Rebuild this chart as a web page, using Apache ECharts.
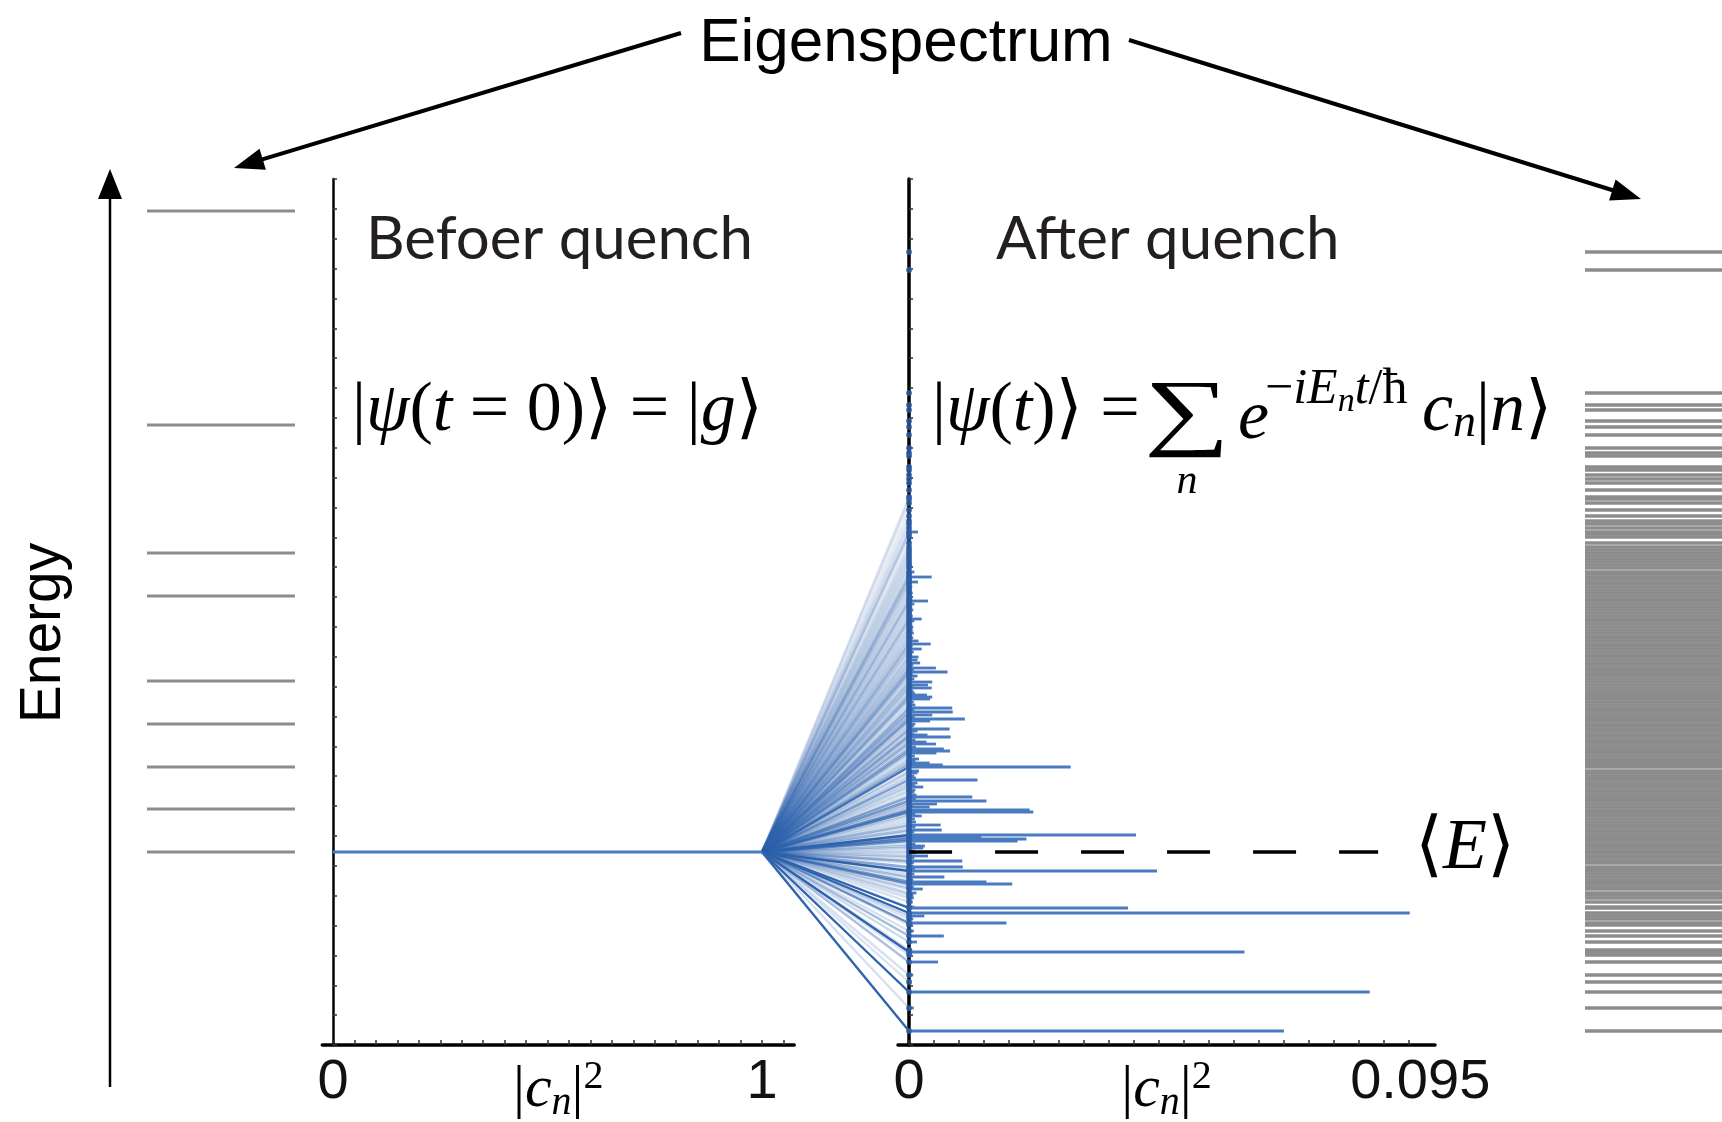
<!DOCTYPE html>
<html>
<head>
<meta charset="utf-8">
<script src="https://cdn.jsdelivr.net/npm/echarts@6/dist/echarts.min.js"></script>
<style>
  html, body { margin: 0; padding: 0; background: #fff; }
  #chart { width: 1722px; height: 1122px; }
</style>
</head>
<body>
<div id="chart"></div>
<script>
// energies in arbitrary units, 0 = bottom of the energy axis
const energyMax = 866;
const energyTick = 29.862;

// spectrum of the initial hamiltonian (left ladder)
const levelsBefore = [834, 620, 492, 449, 364, 321, 278, 236, 193];
const groundEnergy = 193;
const meanEnergy = 193;

// spectrum after the quench and the overlaps |c_n|^2
const levelsAfter = [
  793, 775, 652, 640, 635, 624, 618, 610, 597, 592,
  589, 578, 575, 570, 566, 562, 555, 548, 546, 542,
  535, 529, 524, 521, 517, 513, 511, 508, 502, 498,
  495, 492, 489, 486, 483, 480, 477, 473, 471, 468,
  466, 463, 461, 458, 455, 452, 449, 446, 444, 441,
  438, 435, 432, 429, 426, 424, 421, 418, 415, 412,
  409, 407, 404, 401, 399, 396, 393, 390, 388, 385,
  382, 380, 377, 375, 373, 371, 369, 366, 363, 360,
  357, 354, 352, 350, 348, 346, 343, 340, 337, 335,
  333, 330, 328, 326, 324, 321, 319, 316, 314, 311,
  310, 308, 305, 303, 301, 298, 296, 294, 292, 289,
  286, 284, 282, 280, 278, 274, 272, 269, 267, 265,
  262, 260, 258, 255, 253, 250, 248, 246, 244, 241,
  238, 235, 233, 231, 229, 226, 223, 220, 218, 215,
  213, 210, 208, 206, 204, 201, 199, 197, 194, 192,
  189, 187, 184, 182, 178, 176, 174, 171, 168, 165,
  163, 161, 158, 156, 152, 150, 147, 143, 138, 137,
  132, 129, 126, 122, 120, 114, 109, 103, 95, 93,
  90, 83, 70, 63, 53, 37, 14
];
const weightsAfter = [
  0, 0, 0, 0, 0, 0, 0, 0, 0, 0,
  0, 0, 0, 0, 0, 0, 0, 0.0001, 0.0001, 0.0001,
  0.0001, 0.0002, 0.0001, 0.0002, 0.0002, 0.0017, 0.0002, 0.0003, 0.0002, 0.0003,
  0.0002, 0.0004, 0.0003, 0.0004, 0.0003, 0.0005, 0.0004, 0.0010, 0.0004, 0.0043,
  0.0005, 0.0017, 0.0004, 0.0006, 0.0005, 0.0007, 0.0005, 0.0006, 0.0036, 0.0010,
  0.0006, 0.0008, 0.0005, 0.0007, 0.0024, 0.0010, 0.0006, 0.0008, 0.0007, 0.0009,
  0.0006, 0.0008, 0.0018, 0.0041, 0.0007, 0.0024, 0.0009, 0.0006, 0.0018, 0.0016,
  0.0021, 0.0008, 0.0051, 0.0009, 0.0073, 0.0007, 0.0016, 0.0010, 0.0044, 0.0036,
  0.0043, 0.0008, 0.0011, 0.0034, 0.0044, 0.0040, 0.0009, 0.0012, 0.0082, 0.0010,
  0.0083, 0.0044, 0.0011, 0.0106, 0.0040, 0.0012, 0.0009, 0.0077, 0.0016, 0.0010,
  0.0035, 0.0079, 0.0012, 0.0033, 0.0051, 0.0013, 0.0066, 0.0078, 0.0052, 0.0011,
  0.0019, 0.0012, 0.0039, 0.0064, 0.0307, 0.0019, 0.0016, 0.0010, 0.0013, 0.0130,
  0.0016, 0.0011, 0.0027, 0.0012, 0.0010, 0.0014, 0.0120, 0.0013, 0.0147, 0.0053,
  0.0039, 0.0229, 0.0236, 0.0012, 0.0024, 0.0011, 0.0013, 0.0060, 0.0012, 0.0062,
  0.0010, 0.0431, 0.0137, 0.0223, 0.0206, 0.0012, 0.0030, 0.0027, 0.0011, 0.0013,
  0.0036, 0.0010, 0.0101, 0.0009, 0.0102, 0.0011, 0.0471, 0.0010, 0.0067, 0.0008,
  0.0147, 0.0196, 0.0009, 0.0026, 0.0014, 0.0008, 0.0009, 0.0007, 0.0010, 0.0416,
  0.0951, 0.0029, 0.0008, 0.0185, 0.0007, 0.0009, 0.0066, 0.0015, 0.0006, 0.0637,
  0.0006, 0.0055, 0.0008, 0.0005, 0.0875, 0.0009, 0.0712
];

// tick marks / labels on the two |c_n|^2 axes
const leftTicks = Array.from({ length: 22 }, (_, i) => +(i * 0.05).toFixed(2));
const leftLabels = [0, 1];
const rightTicks = Array.from({ length: 21 }, (_, i) => +(i * 0.00475).toFixed(5));
const rightLabels = [0, 0.095];

const serif = "'Liberation Serif', 'DejaVu Serif', serif";
const sans = "'Liberation Sans', Arial, sans-serif";
const myriad = "Lato, 'Open Sans', sans-serif";
const blue = '#4a7abf';

const chart = echarts.init(document.getElementById('chart'));

function arrow(x1, y1, x2, y2, w, head, half) {
  const len = Math.hypot(x2 - x1, y2 - y1);
  const ux = (x2 - x1) / len, uy = (y2 - y1) / len;
  const bx = x2 - ux * head, by = y2 - uy * head;
  return [
    { type: 'line', shape: { x1: x1, y1: y1, x2: bx + ux * 3, y2: by + uy * 3 }, style: { stroke: '#000', lineWidth: w } },
    { type: 'polygon', shape: { points: [[x2, y2], [bx - uy * half, by + ux * half], [bx + uy * half, by - ux * half]] }, style: { fill: '#000' } }
  ];
}

function energyAxis(gridIndex, visible, width) {
  return {
    type: 'value', gridIndex: gridIndex, min: 0, max: energyMax, interval: energyTick,
    show: visible,
    axisLine: { show: visible, onZero: true, lineStyle: { color: '#000', width: width } },
    axisTick: { show: visible, inside: true, length: 4, lineStyle: { color: '#333', width: 1.5 } },
    axisLabel: { show: false },
    splitLine: { show: false }
  };
}

const cnName = '{b||}{c|c}{s|n}{b||}{p|2}';
const cnRich = {
  b: { fontFamily: serif, fontSize: 60, lineHeight: 66, color: '#000' },
  c: { fontFamily: serif, fontSize: 60, fontStyle: 'italic', lineHeight: 66, color: '#000' },
  s: { fontFamily: serif, fontSize: 40, fontStyle: 'italic', lineHeight: 40, verticalAlign: 'bottom', color: '#000' },
  p: { fontFamily: serif, fontSize: 40, lineHeight: 40, verticalAlign: 'top', color: '#000' }
};

function cnAxis(gridIndex, min, max, ticks, labels) {
  return {
    type: 'value', gridIndex: gridIndex, min: min, max: max,
    axisLine: { onZero: true, lineStyle: { color: '#000', width: 3.5 } },
    axisTick: { show: true, inside: true, length: 5, customValues: ticks, lineStyle: { color: '#333', width: 1.5 } },
    axisLabel: {
      customValues: labels, margin: 10, fontSize: 56, fontFamily: sans, color: '#111',
      formatter: v => (v === 0.095 ? '{r|0.095}' : String(v)),
      rich: { r: { fontSize: 56, fontFamily: sans, color: '#111', padding: [0, 0, 0, 22] } }
    },
    splitLine: { show: false },
    name: cnName, nameLocation: 'middle', nameGap: 12, nameMoveOverlap: false,
    nameTextStyle: { rich: cnRich, verticalAlign: 'top' }
  };
}

function hiddenAxis(gridIndex) {
  return { type: 'value', gridIndex: gridIndex, min: 0, max: 1, show: false };
}

function levelLine(color, width) {
  return function (params, api) {
    const a = api.coord([0, api.value(1)]);
    const b = api.coord([1, api.value(1)]);
    return { type: 'line', shape: { x1: a[0], y1: a[1], x2: b[0], y2: b[1] }, style: { stroke: color, lineWidth: width } };
  };
}

const ff = { t: { fontFamily: serif, fontSize: 70, color: '#000' }, i: { fontFamily: serif, fontSize: 70, fontStyle: 'italic', color: '#000' } };

const option = {
  animation: false,
  backgroundColor: '#fff',
  grid: [
    { left: 147, width: 148, top: 179, height: 866, outerBoundsMode: 'none' },
    { left: 322.3, width: 471.9, top: 179, height: 866, outerBoundsMode: 'none' },
    { left: 762, width: 147, top: 179, height: 866, outerBoundsMode: 'none' },
    { left: 898, width: 537, top: 179, height: 866, outerBoundsMode: 'none' },
    { left: 1585, width: 137, top: 179, height: 866, outerBoundsMode: 'none' }
  ],
  xAxis: [
    hiddenAxis(0),
    cnAxis(1, -0.025, 1.075, leftTicks, leftLabels),
    hiddenAxis(2),
    cnAxis(3, -0.0021, 0.0999, rightTicks, rightLabels),
    hiddenAxis(4)
  ],
  yAxis: [
    energyAxis(0, false, 0),
    energyAxis(1, true, 2.5),
    energyAxis(2, false, 0),
    energyAxis(3, true, 3.5),
    energyAxis(4, false, 0)
  ],
  series: [
    {
      type: 'custom', xAxisIndex: 0, yAxisIndex: 0, silent: true,
      data: levelsBefore.map(e => [0, e]),
      renderItem: levelLine('#8c8c8c', 3)
    },
    {
      type: 'custom', xAxisIndex: 4, yAxisIndex: 4, silent: true,
      data: levelsAfter.map(e => [0, e]),
      renderItem: levelLine('#8c8c8c', 3.4)
    },
    {
      type: 'line', xAxisIndex: 1, yAxisIndex: 1, silent: true, symbol: 'none',
      data: [[0, groundEnergy], [1, groundEnergy]],
      lineStyle: { color: blue, width: 3 }
    },
    {
      // projection of the initial state onto the new eigenstates
      type: 'custom', xAxisIndex: 2, yAxisIndex: 2, silent: true,
      data: levelsAfter.map((e, i) => [1, e, weightsAfter[i]]),
      renderItem: function (params, api) {
        const w = api.value(2);
        if (!w) return null;
        const a = api.coord([0, groundEnergy]);
        const b = api.coord([1, api.value(1)]);
        const op = Math.min(1, 0.06 + 4.6 * Math.sqrt(w));
        return { type: 'line', shape: { x1: a[0], y1: a[1], x2: b[0], y2: b[1] }, style: { stroke: '#2f63ad', lineWidth: 2.4, opacity: op } };
      }
    },
    {
      type: 'custom', xAxisIndex: 3, yAxisIndex: 3, silent: true,
      data: levelsAfter.map((e, i) => [weightsAfter[i], e]),
      renderItem: function (params, api) {
        const w = api.value(0);
        if (!w) return null;
        const a = api.coord([0, api.value(1)]);
        const b = api.coord([w, api.value(1)]);
        return { type: 'line', shape: { x1: a[0], y1: a[1], x2: b[0], y2: b[1] }, style: { stroke: blue, lineWidth: 2.8 } };
      }
    },
    {
      type: 'scatter', xAxisIndex: 3, yAxisIndex: 3, silent: true,
      data: levelsAfter.map(e => [0, e]),
      symbolSize: 6, itemStyle: { color: '#2d5ea6' }, z: 3
    },
    {
      type: 'line', xAxisIndex: 3, yAxisIndex: 3, silent: true, symbol: 'none',
      data: [[0, meanEnergy], [0.0891, meanEnergy]],
      lineStyle: { color: '#000', width: 3.5, type: [43, 43] }, z: 4
    }
  ],
  graphic: [
    { type: 'text', x: 906, y: 44, style: { text: 'Eigenspectrum', fontSize: 62, fontFamily: sans, fill: '#000', textAlign: 'center', textVerticalAlign: 'middle' } },
    ...arrow(681, 33, 234, 168, 4, 30, 11),
    ...arrow(1129, 40, 1641, 199, 4, 30, 11),
    ...arrow(110, 1087, 110, 169, 2.5, 30, 12),
    { type: 'text', x: 44, y: 633, rotation: Math.PI / 2, style: { text: 'Energy', fontSize: 57, fontFamily: sans, fill: '#000', textAlign: 'center', textVerticalAlign: 'middle' } },
    { type: 'text', x: 366, y: 240, style: { text: 'Befoer quench', fontSize: 60, fontFamily: myriad, fill: '#231f20', textVerticalAlign: 'middle' } },
    { type: 'text', x: 996, y: 240, style: { text: 'After quench', fontSize: 60, fontFamily: myriad, fill: '#231f20', textVerticalAlign: 'middle' } },
    { type: 'text', x: 352, y: 412, style: { text: '{t||}{i|ψ}{t|(}{i|t}{t| = 0)⟩ = |}{i|g}{t|⟩}', rich: ff, textVerticalAlign: 'middle' } },
    { type: 'text', x: 932, y: 412, style: { text: '{t||}{i|ψ}{t|(}{i|t}{t|)⟩ =}', rich: ff, textVerticalAlign: 'middle' } },
    { type: 'text', x: 1187, y: 416, scaleX: 1.4, style: { text: '∑', fontSize: 86, fontFamily: serif, fill: '#000', textAlign: 'center', textVerticalAlign: 'middle' } },
    { type: 'text', x: 1187, y: 482, style: { text: 'n', fontSize: 42, fontFamily: serif, fontStyle: 'italic', fill: '#000', textAlign: 'center', textVerticalAlign: 'middle' } },
    { type: 'text', x: 1238, y: 420, style: { text: 'e', fontSize: 70, fontFamily: serif, fontStyle: 'italic', fill: '#000', textVerticalAlign: 'middle' } },
    {
      type: 'text', x: 1265, y: 390, style: {
        text: '{t|−}{i|iE}{s|n}{i|t}{t|/ħ}', textVerticalAlign: 'middle',
        rich: {
          t: { fontFamily: serif, fontSize: 50, lineHeight: 58, color: '#000' },
          i: { fontFamily: serif, fontSize: 50, fontStyle: 'italic', lineHeight: 58, color: '#000' },
          s: { fontFamily: serif, fontSize: 34, fontStyle: 'italic', lineHeight: 34, verticalAlign: 'bottom', color: '#000' }
        }
      }
    },
    {
      type: 'text', x: 1422, y: 412, style: {
        text: '{i|c}{s|n}{t||}{i|n}{t|⟩}', textVerticalAlign: 'middle',
        rich: {
          t: ff.t, i: ff.i,
          s: { fontFamily: serif, fontSize: 46, fontStyle: 'italic', lineHeight: 46, verticalAlign: 'bottom', color: '#000' }
        }
      }
    },
    { type: 'text', x: 1415, y: 849, style: { text: '{t|⟨}{i|E}{t|⟩}', rich: { t: { fontFamily: serif, fontSize: 72, color: '#000' }, i: { fontFamily: serif, fontSize: 72, fontStyle: 'italic', color: '#000' } }, textVerticalAlign: 'middle' } }
  ]
};

chart.setOption(option);
</script>
</body>
</html>
